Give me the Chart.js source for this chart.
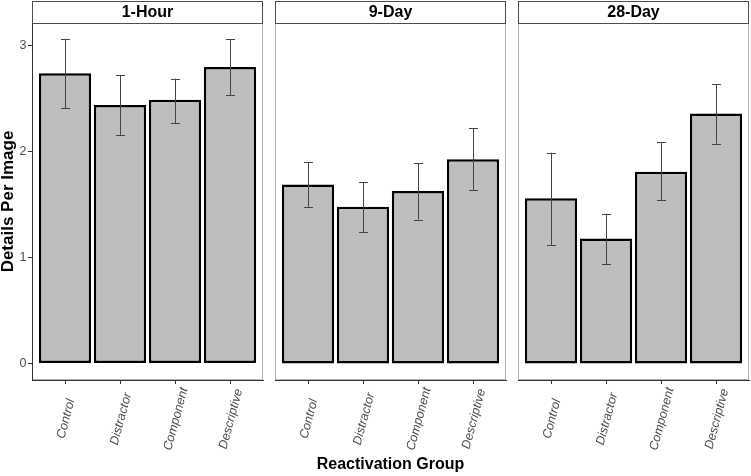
<!DOCTYPE html>
<html lang="en">
<head>
    <meta charset="UTF-8">
    <title>Details Per Image by Reactivation Group</title>
    <script src="https://cdn.jsdelivr.net/npm/chart.js@4.4.1/dist/chart.umd.min.js"></script>
    <style>
        body { margin: 0; background: #fff; }
        #wrap { position: relative; width: 751px; height: 476px; }
        #wrap canvas { position: absolute; top: 0; }
    </style>
</head>
<body>
<div id="wrap">
    <canvas id="p1" width="264" height="476" style="left:0px"></canvas>
    <canvas id="p2" width="243" height="476" style="left:264px"></canvas>
    <canvas id="p3" width="244" height="476" style="left:507px"></canvas>
</div>
<script>
    // values
    const groups = ['Control', 'Distractor', 'Component', 'Descriptive'];
    const panels = ['1-Hour', '9-Day', '28-Day'];
    const yTicks = [0, 1, 2, 3];

    const hourMean = [2.74, 2.44, 2.49, 2.80];
    const hourLow  = [2.41, 2.16, 2.27, 2.535];
    const hourHigh = [3.065, 2.72, 2.69, 3.06];

    const day9Mean = [1.69, 1.48, 1.63, 1.93];
    const day9Low  = [1.48, 1.24, 1.36, 1.64];
    const day9High = [1.90, 1.715, 1.89, 2.22];

    const day28Mean = [1.56, 1.18, 1.81, 2.36];
    const day28Low  = [1.12, 0.94, 1.54, 2.075];
    const day28High = [1.99, 1.415, 2.09, 2.635];

    const FONT = 'Arial, "Liberation Sans", sans-serif';

    // light panel border + strip on top, error bars, centred rotated tick labels
    const facetPlugin = {
        id: 'facet',
        beforeDraw(chart, args, opts) {
            const {ctx, chartArea: a} = chart;
            ctx.save();
            ctx.strokeStyle = '#b3b3b3';
            ctx.lineWidth = 1;
            ctx.strokeRect(a.left + 0.5, a.top + 0.5, a.right - a.left - 1, a.bottom - a.top - 1);
            ctx.restore();

            // centre the rotated labels on their ticks like ggplot's hjust = 0.5
            const xs = chart.scales.x;
            xs.getLabelItems().forEach((it, i) => {
                it.options.translation = [xs.getPixelForValue(xs.ticks[i].value) + 1, 419];
                it.options.textAlign = 'center';
                it.options.textBaseline = 'middle';
                it.textOffset = 0;
            });
        },
        afterDatasetsDraw(chart, args, opts) {
            const {ctx} = chart;
            const xs = chart.scales.x, ys = chart.scales.y;
            ctx.save();
            ctx.strokeStyle = '#444';
            ctx.lineWidth = 1;
            opts.low.forEach((lo, i) => {
                const x = Math.round(xs.getPixelForValue(i + 1)) + 0.5;
                const y1 = ys.getPixelForValue(lo);
                const y2 = ys.getPixelForValue(opts.high[i]);
                ctx.beginPath();
                ctx.moveTo(x, y1); ctx.lineTo(x, y2);
                ctx.moveTo(x - 4.5, Math.round(y1) + 0.5); ctx.lineTo(x + 4.5, Math.round(y1) + 0.5);
                ctx.moveTo(x - 4.5, Math.round(y2) + 0.5); ctx.lineTo(x + 4.5, Math.round(y2) + 0.5);
                ctx.stroke();
            });
            ctx.restore();
        },
        afterDraw(chart, args, opts) {
            const {ctx, chartArea: a} = chart;
            ctx.save();
            ctx.fillStyle = '#fff';
            ctx.fillRect(a.left, 1, a.right - a.left, a.top - 1);
            ctx.strokeStyle = '#4d4d4d';
            ctx.lineWidth = 1;
            ctx.strokeRect(a.left + 0.5, 1.5, a.right - a.left - 1, a.top - 1);
            ctx.fillStyle = '#000';
            ctx.font = 'bold 16px ' + FONT;
            ctx.textAlign = 'center';
            ctx.textBaseline = 'middle';
            ctx.fillText(opts.strip, (a.left + a.right) / 2, 12.5);
            ctx.restore();
        }
    };

    function makePanel(id, idx, means, low, high) {
        const first = idx === 0, middle = idx === 1;
        const padLeft = first ? 0 : 11;
        const padRight = idx === 2 ? 2 : 1;
        return new Chart(document.getElementById(id), {
            type: 'bar',
            data: {
                datasets: [{
                    data: means.map((v, i) => ({x: i + 1, y: v})),
                    backgroundColor: '#bebebe',
                    borderColor: '#000',
                    borderWidth: 2.5,
                    borderSkipped: false,
                    barPercentage: 0.95,
                    categoryPercentage: 1
                }]
            },
            options: {
                responsive: false,
                animation: false,
                events: [],
                layout: { padding: { top: 23, left: padLeft, right: padRight, bottom: 0 } },
                plugins: {
                    legend: { display: false },
                    tooltip: { enabled: false },
                    facet: { strip: panels[idx], low: low, high: high }
                },
                scales: {
                    x: {
                        type: 'linear',
                        offset: false,
                        min: 0.4,
                        max: 4.6,
                        afterBuildTicks: s => { s.ticks = groups.map((g, i) => ({value: i + 1})); },
                        afterFit: s => { s.height = 96; },
                        grid: { offset: false, drawOnChartArea: false, color: '#333', tickLength: 4 },
                        border: { display: true, color: '#333' },
                        ticks: {
                            autoSkip: false,
                            minRotation: 75,
                            maxRotation: 75,
                            color: '#4d4d4d',
                            font: { family: FONT, size: 12.5, style: 'italic' },
                            callback: v => groups[v - 1]
                        },
                        title: {
                            display: middle,
                            text: 'Reactivation Group',
                            color: '#000',
                            font: { family: FONT, size: 16, weight: 'bold', lineHeight: 1.2 },
                            padding: { top: 0, bottom: 1.5 }
                        }
                    },
                    y: {
                        display: first,
                        min: -0.155,
                        max: 3.215,
                        afterBuildTicks: s => { s.ticks = yTicks.map(v => ({value: v})); },
                        afterFit: s => { s.width = first ? 32 : 0; },
                        grid: { drawOnChartArea: false, color: '#333', tickLength: 4 },
                        border: { display: true, color: '#333' },
                        ticks: {
                            color: '#4d4d4d',
                            padding: 1.5,
                            font: { family: FONT, size: 12.5 }
                        },
                        title: {
                            display: first,
                            text: 'Details Per Image',
                            color: '#000',
                            font: { family: FONT, size: 17, weight: 'bold', lineHeight: 1 },
                            padding: 0
                        }
                    }
                }
            },
            plugins: [facetPlugin]
        });
    }

    makePanel('p1', 0, hourMean, hourLow, hourHigh);
    makePanel('p2', 1, day9Mean, day9Low, day9High);
    makePanel('p3', 2, day28Mean, day28Low, day28High);
</script>
</body>
</html>
